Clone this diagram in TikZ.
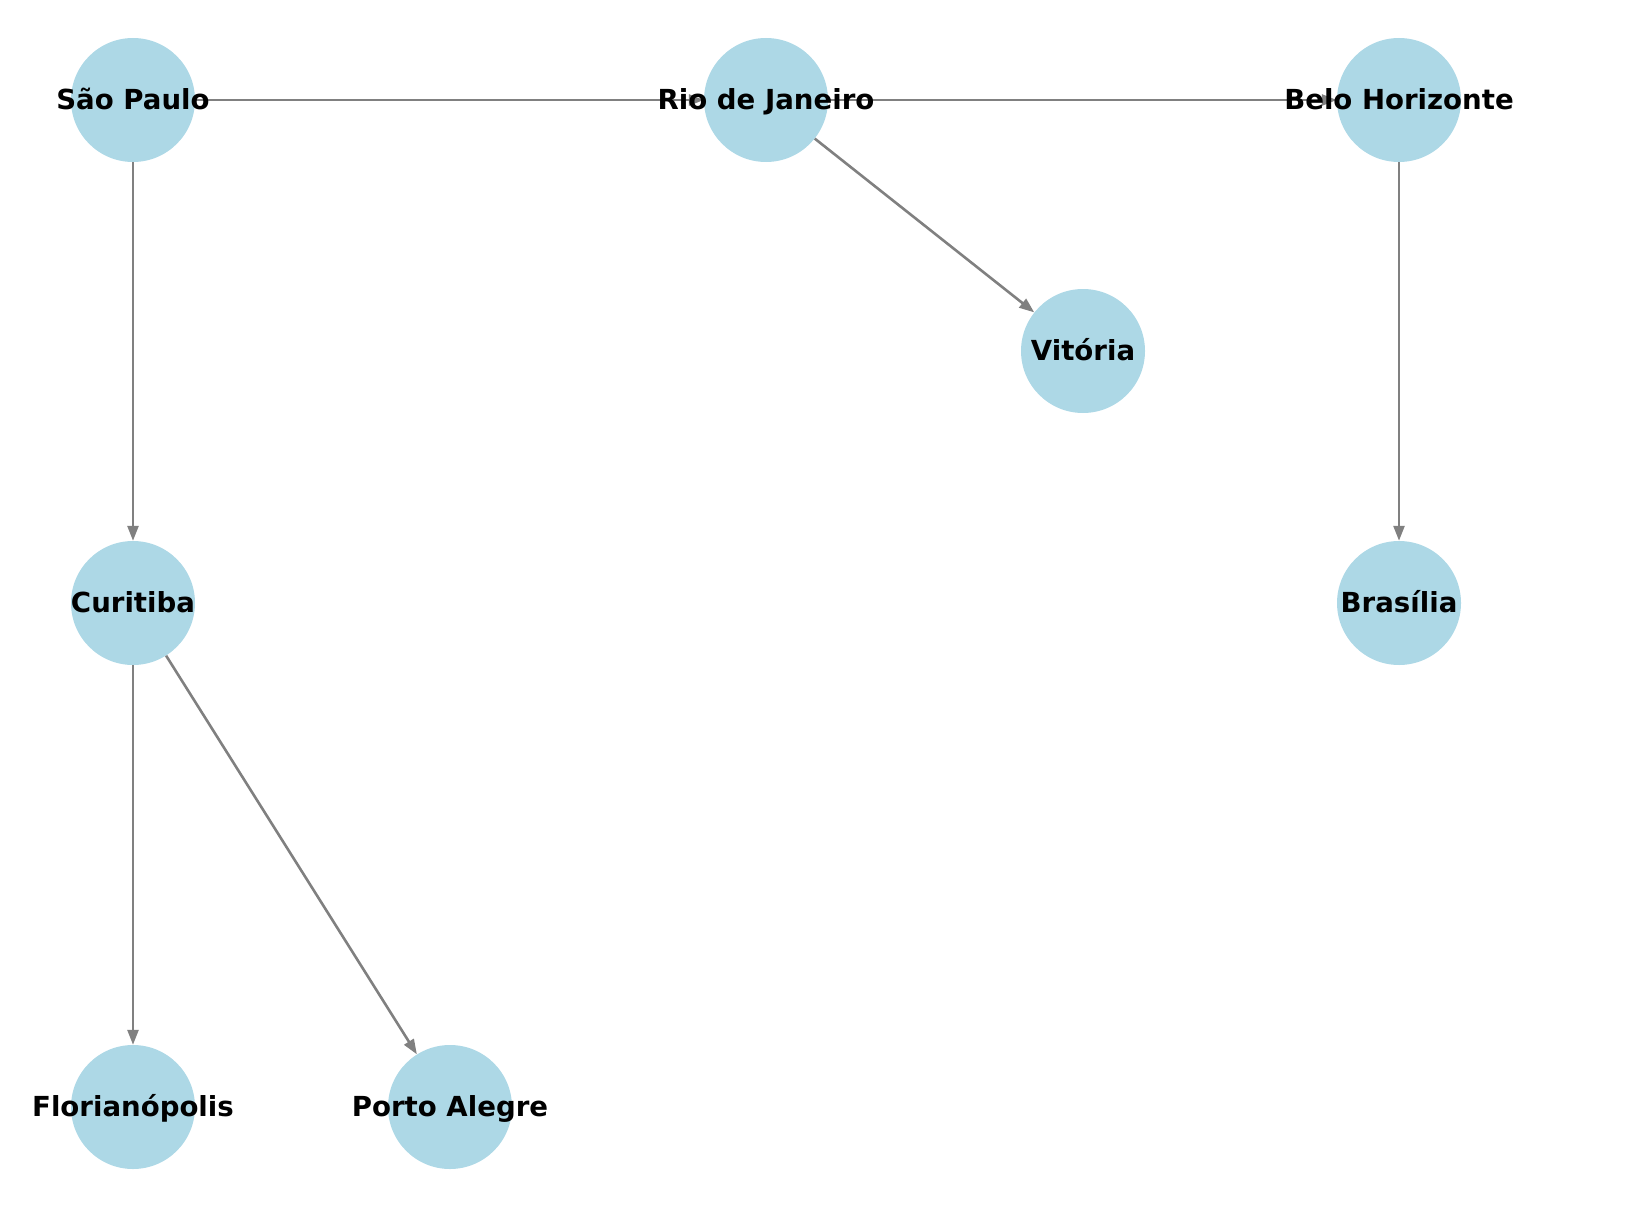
\documentclass[tikz,border=0pt]{standalone}
\usepackage{fontspec}
\setmainfont{DejaVu Sans}
\usetikzlibrary{arrows.meta}
\definecolor{nodeblue}{HTML}{ADD8E6}
\definecolor{edgegray}{HTML}{808080}
\begin{document}
\begin{tikzpicture}[x=1pt,y=-1pt,
  city/.style={circle,fill=nodeblue,minimum size=124pt,inner sep=0pt},
  cityname/.style={font=\bfseries\fontsize{27.6}{32}\selectfont,text=black,inner sep=0pt,
    text height=25.7pt,text depth=6.6pt},
  link/.style={draw=edgegray,line width=2.6pt,-{Triangle[length=15pt,width=11pt]}}]
\useasboundingbox (0,0) rectangle (1630,1228);
% city discs
\node[city] (sp)  at (133,100) {};
\node[city] (rj)  at (766,100) {};
\node[city] (bh)  at (1399,100) {};
\node[city] (vit) at (1083,351) {};
\node[city] (cur) at (133,603) {};
\node[city] (bra) at (1399,603) {};
\node[city] (flo) at (133,1107) {};
\node[city] (poa) at (450,1107) {};
% routes
\draw[link] (sp) -- (rj);
\draw[link] (rj) -- (bh);
\draw[link] (rj) -- (vit);
\draw[link] (sp) -- (cur);
\draw[link] (bh) -- (bra);
\draw[link] (cur) -- (flo);
\draw[link] (cur) -- (poa);
% labels on top
\node[cityname] (lsp)  at (sp)  {São Paulo};
\node[cityname] (lrj)  at (rj)  {Rio de Janeiro};
\node[cityname] (lbh)  at (bh)  {Belo Horizonte};
\node[cityname] (lvit) at (vit) {Vitória};
\node[cityname] (lcur) at (cur) {Curitiba};
\node[cityname] (lbra) at (bra) {Brasília};
\node[cityname] (lflo) at (flo) {Florianópolis};
\node[cityname] (lpoa) at (poa) {Porto Alegre};
\end{tikzpicture}
\end{document}
